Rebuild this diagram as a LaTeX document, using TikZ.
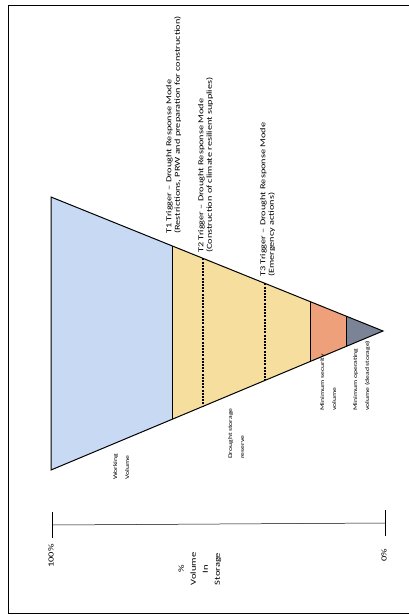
\documentclass[tikz,border=0pt]{standalone}
\usepackage{fontspec}
\setmainfont{Carlito}[FakeStretch=1.35]
\usetikzlibrary{calc}
\definecolor{WorkBlue}{RGB}{200,218,243}
\definecolor{ReserveYellow}{RGB}{245,222,158}
\definecolor{SecurityOrange}{RGB}{238,160,122}
\definecolor{DeadGrey}{RGB}{122,132,150}

\begin{document}
\begin{tikzpicture}[
    x=1pt, y=-1pt,
    tlabel/.style={rotate=90, anchor=north west, inner sep=0pt, align=left, font=\fontsize{7.6}{8.5}\selectfont},
    zonelabel/.style={rotate=90, anchor=north west, inner sep=0pt, align=left, font=\fontsize{5.7}{12}\selectfont},
    axislabel/.style={rotate=90, inner sep=0pt, align=center, font=\fontsize{7.8}{12}\selectfont},
    trigger/.style={line width=1.3pt, dash pattern=on 2pt off 1.2pt}
]
    \useasboundingbox (0,0) rectangle (409,615);
    % frame
    \draw[line width=0.8pt] (409,5) -- (8,5) -- (8,613) -- (409,613);

    % storage triangle
    \coordinate (top) at (51,197);
    \coordinate (bot) at (51,470);
    \coordinate (apex) at (383,331);
    \foreach \name/\t in {t1/0.3645, t2/0.4578, t3/0.6446, sec/0.7801, dead/0.8886} {
        \coordinate (\name u) at ($(top)!\t!(apex)$);
        \coordinate (\name l) at ($(bot)!\t!(apex)$);
    }
    \fill[WorkBlue] (top) -- (t1u) -- (t1l) -- (bot) -- cycle;
    \fill[ReserveYellow] (t1u) -- (secu) -- (secl) -- (t1l) -- cycle;
    \fill[SecurityOrange] (secu) -- (deadu) -- (deadl) -- (secl) -- cycle;
    \fill[DeadGrey] (deadu) -- (apex) -- (deadl) -- cycle;
    \draw[line width=1pt] (top) -- (apex) -- (bot) -- cycle;
    \draw[line width=1pt] (t1u) -- (t1l);
    \draw[trigger] (t2u) -- (t2l);
    \draw[trigger] (t3u) -- (t3l);
    \draw[line width=0.8pt] (secu) -- (secl);
    \draw[line width=0.8pt] (deadu) -- (deadl);

    % trigger labels
    \node[tlabel] (t1lab) at (166,234) {T1 Trigger – Drought Response Mode\\(Restrictions, PRW and preparation for construction)};
    \node[tlabel] (t2lab) at (198,253) {T2 Trigger – Drought Response Mode\\(Construction of climate resilient supplies)};
    \node[tlabel] (t3lab) at (260,277) {T3 Trigger – Drought Response Mode\\(Emergency actions)};

    % zone labels
    \node[zonelabel] (work) at (113,480) {Working\\Volume};
    \node[zonelabel] (reserve) at (228,459) {Drought storage\\reserve};
    \node[zonelabel] (security) at (320,411) {Minimum security\\volume};
    \node[zonelabel] (deadlab) at (353,411) {Minimum operating\\volume (dead storage)};

    % axis
    \coordinate (full) at (52,525);
    \coordinate (empty) at (385,523);
    \draw[line width=0.5pt] (full) -- (empty);
    \draw[line width=0.9pt] ($(full)+(0,-13)$) -- ($(full)+(0,13)$);
    \draw[line width=0.9pt] ($(empty)+(0,-13)$) -- ($(empty)+(0,13)$);
    \node[axislabel] (pfull) at (51,556) {100\%};
    \node[axislabel] (pempty) at (384,555) {0\%};
    \node[axislabel] (axtitle) at (200,569) {\%\\Volume\\In\\Storage};
\end{tikzpicture}
\end{document}
